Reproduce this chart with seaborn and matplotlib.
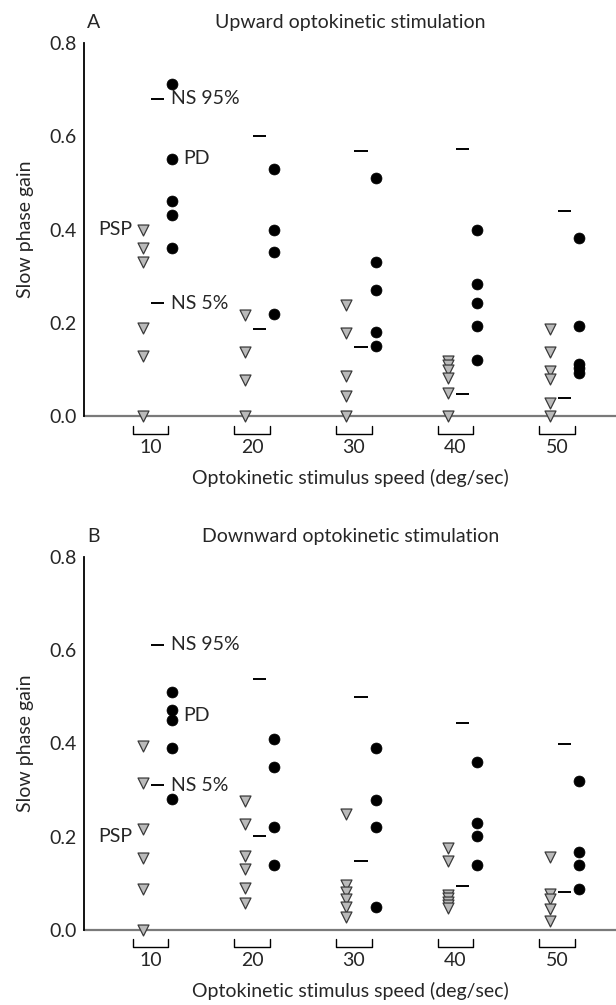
import numpy as np
import pandas as pd
import matplotlib
matplotlib.use("Agg")
import matplotlib.pyplot as plt
import seaborn as sns

# ---------------- data ----------------
speeds = [10, 20, 30, 40, 50]
speed_labels = ["10", "20", "30", "40", "50"]

up_psp = [[0.40, 0.36, 0.33, 0.19, 0.13, 0.0],
          [0.217, 0.138, 0.078, 0.0],
          [0.238, 0.178, 0.087, 0.044, 0.0],
          [0.119, 0.110, 0.100, 0.081, 0.049, 0.0],
          [0.186, 0.138, 0.096, 0.079, 0.028, 0.0]]
up_pd = [[0.711, 0.552, 0.462, 0.431, 0.361],
         [0.529, 0.399, 0.351, 0.220],
         [0.511, 0.331, 0.270, 0.181, 0.151],
         [0.400, 0.283, 0.242, 0.193, 0.121],
         [0.381, 0.193, 0.113, 0.103, 0.093]]
up_ns95 = [0.680, 0.600, 0.569, 0.573, 0.440]
up_ns5 = [0.242, 0.186, 0.149, 0.047, 0.040]

down_psp = [[0.395, 0.316, 0.217, 0.155, 0.087, 0.0],
            [0.277, 0.226, 0.158, 0.130, 0.089, 0.058],
            [0.248, 0.095, 0.080, 0.065, 0.049, 0.028],
            [0.175, 0.148, 0.075, 0.068, 0.060, 0.053, 0.046],
            [0.157, 0.076, 0.065, 0.044, 0.019]]
down_pd = [[0.511, 0.471, 0.451, 0.391, 0.280],
           [0.410, 0.350, 0.220, 0.140],
           [0.390, 0.279, 0.221, 0.048],
           [0.360, 0.230, 0.201, 0.140],
           [0.319, 0.167, 0.138, 0.088]]
down_ns95 = [0.612, 0.539, 0.500, 0.444, 0.400]
down_ns5 = [0.310, 0.201, 0.148, 0.093, 0.080]

titles = ["Upward optokinetic stimulation", "Downward optokinetic stimulation"]
panel_letters = ["A", "B"]
xlabel = "Optokinetic stimulus speed (deg/sec)"
ylabel = "Slow phase gain"

# ---------------- style ----------------
sns.set_style("white")
plt.rcParams["font.family"] = ["Lato", "DejaVu Sans"]
FS = 14

TRI_OFF, PD_OFF, NS_OFF, NS_HALF, BR_HALF = -0.74, 2.14, 0.71, 0.66, 1.75


def long_df(groups, offset):
    xs, ys = [], []
    for s, vals in zip(speeds, groups):
        for v in vals:
            xs.append(s + offset)
            ys.append(v)
    return pd.DataFrame({"x": xs, "gain": ys})


fig = plt.figure(figsize=(6.16, 10.05), dpi=100)
H = 1005.0
axes_px = [(42.7, 416.3), (557.3, 929.7)]
panels = [(up_psp, up_pd, up_ns95, up_ns5), (down_psp, down_pd, down_ns95, down_ns5)]

for i, ((ytop, ybot), (psp, pd_, ns95, ns5)) in enumerate(zip(axes_px, panels)):
    ax = fig.add_axes([84.3 / 616, 1 - ybot / H, 1 - 84.3 / 616, (ybot - ytop) / H])
    ax.set_xlim(3.49, 55.8)
    ax.set_ylim(0, 0.8)

    # zero line
    ax.axhline(0, color="#7a7a7a", lw=1.6, zorder=1, clip_on=False)

    # NS dashes
    for s, a, b in zip(speeds, ns95, ns5):
        for v in (a, b):
            ax.plot([s + NS_OFF - NS_HALF, s + NS_OFF + NS_HALF], [v, v],
                    color="black", lw=1.4, solid_capstyle="butt", zorder=2)

    sns.scatterplot(data=long_df(psp, TRI_OFF), x="x", y="gain", ax=ax,
                    marker="v", s=62, color="#bababa", edgecolor="#3a3a3a",
                    linewidth=0.9, zorder=3, clip_on=False)
    sns.scatterplot(data=long_df(pd_, PD_OFF), x="x", y="gain", ax=ax,
                    marker="o", s=62, color="black", edgecolor="black",
                    linewidth=0.5, zorder=4, clip_on=False)

    # brackets below each group
    for s in speeds:
        ax.plot([s - BR_HALF, s - BR_HALF, s + BR_HALF, s + BR_HALF],
                [-0.021, -0.037, -0.037, -0.021], color="black", lw=1.0,
                clip_on=False, zorder=2)

    # axes styling
    for side in ("top", "right", "bottom"):
        ax.spines[side].set_visible(False)
    ax.spines["left"].set_color("black")
    ax.spines["left"].set_linewidth(1.3)
    ax.set_yticks([0.0, 0.2, 0.4, 0.6, 0.8])
    ax.set_yticklabels(["0.0", "0.2", "0.4", "0.6", "0.8"])
    ax.tick_params(axis="y", direction="in", length=10.5, width=1.0,
                   color="#555555", pad=5.5, labelsize=FS)
    ax.set_xticks(speeds)
    ax.set_xticklabels(speed_labels)
    ax.tick_params(axis="x", length=0, pad=16, labelsize=FS)

    ax.set_xlabel(xlabel, fontsize=FS)
    ax.xaxis.set_label_coords(0.5, -0.14)
    ax.set_ylabel(ylabel, fontsize=FS)
    ax.yaxis.set_label_coords(-0.094, 0.5)

    hpx = ybot - ytop
    ax.text(0.5, 1 + 20.5 / hpx, titles[i], transform=ax.transAxes,
            ha="center", va="center", fontsize=FS)
    ax.text(0.017, 1 + 20.5 / hpx, panel_letters[i], transform=ax.transAxes,
            ha="center", va="center", fontsize=FS)

    # in-plot labels
    ax.text(12.0, ns95[0], "NS 95%", ha="left", va="center", fontsize=FS)
    ax.text(12.0, ns5[0], "NS 5%", ha="left", va="center", fontsize=FS)
    if i == 0:
        pd_y = pd_[0][1]
        psp_y = psp[0][0]
    else:
        pd_y = (pd_[0][1] + pd_[0][2]) / 2
        psp_y = 0.201
    ax.text(13.2, pd_y, "PD", ha="left", va="center", fontsize=FS)
    ax.text(8.2, psp_y, "PSP", ha="right", va="center", fontsize=FS)

fig.savefig("out.png", dpi=100)
